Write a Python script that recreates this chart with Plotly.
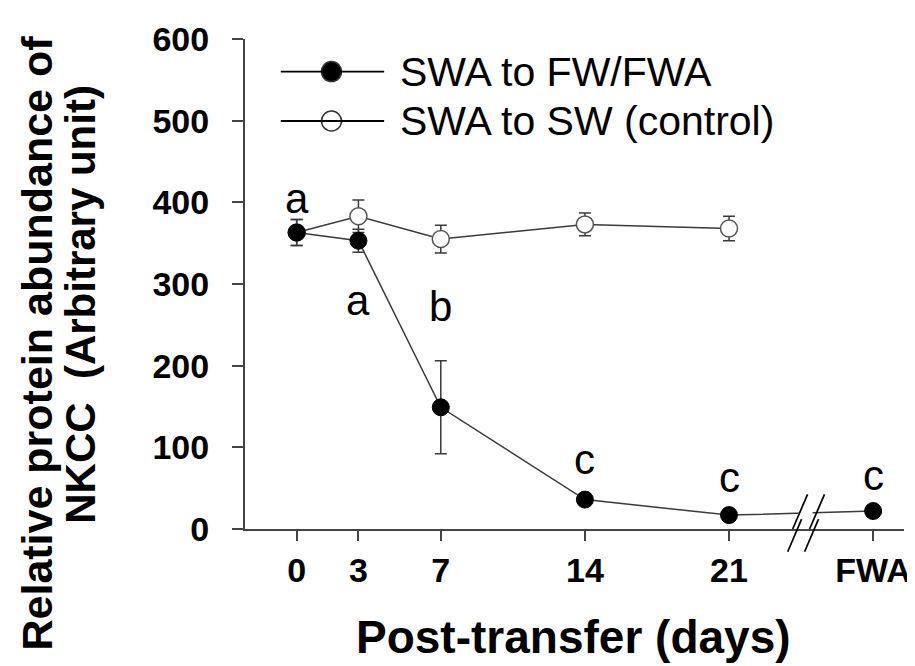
import plotly.graph_objects as go

# ---- data ----
days = [0, 3, 7, 14, 21, 28]
tick_labels = ["0", "3", "7", "14", "21", "FWA"]
y_ticks = [0, 100, 200, 300, 400, 500, 600]

fw_days = [0, 3, 7, 14, 21]
fw_mean = [363, 353, 149, 36, 17]
fw_err = [16, 14, 57, 4, 3]
fwa_day = [28]
fwa_mean = [22]
fwa_err = [3]

sw_days = [0, 3, 7, 14, 21]
sw_mean = [363, 383, 355, 373, 368]
sw_err = [16, 20, 17, 14, 15]

sig_days = [0, 3, 7, 14, 21, 28]
sig_letters = ["a", "a", "b", "c", "c", "c"]
sig_y = [405, 280, 272, 85, 63, 66]

FONT = "Liberation Sans, Arial, sans-serif"
LINE = "#3a3a3a"

# plot-area geometry (pixels)
W, H = 915, 666
ML, MR, MT, MB = 237, 15, 25, 145
PW, PH = W - ML - MR, H - MT - MB


def px_x(p):
    return (p - ML) / PW


def px_y(p):
    return (H - MB - p) / PH


fig = go.Figure()

# control (open)
fig.add_trace(go.Scatter(
    x=sw_days, y=sw_mean, mode="lines+markers", name="SWA to SW (control)",
    line=dict(color=LINE, width=1.5),
    marker=dict(symbol="circle", size=17, color="white", line=dict(color="#555", width=1.5)),
    error_y=dict(type="data", array=sw_err, color=LINE, thickness=1.5, width=6),
    showlegend=False,
))
# FW transfer (filled) including FWA point
fig.add_trace(go.Scatter(
    x=fw_days + fwa_day, y=fw_mean + fwa_mean, mode="lines+markers", name="SWA to FW/FWA",
    line=dict(color=LINE, width=1.5),
    marker=dict(symbol="circle", size=17, color="black", line=dict(color="black", width=1)),
    error_y=dict(type="data", array=fw_err + fwa_err, color=LINE, thickness=1.5, width=6),
    showlegend=False,
))

# legend (drawn manually)
legend_items = [("SWA to FW/FWA", "black"), ("SWA to SW (control)", "white")]
for i, (txt, fill) in enumerate(legend_items):
    yy = px_y(58 + i * 50)
    fig.add_shape(type="line", xref="paper", yref="paper", x0=px_x(273), x1=px_x(377), y0=yy, y1=yy,
                  line=dict(color="black", width=1.8))
    fig.add_trace(go.Scatter(
        x=[px_x(324)], y=[yy], xaxis="x2", yaxis="y2", mode="markers",
        marker=dict(symbol="circle", size=20, color=fill, line=dict(color="#333", width=1.5)),
        showlegend=False, hoverinfo="skip"))
    fig.add_annotation(x=px_x(391), y=yy, xref="paper", yref="paper", text=txt, showarrow=False,
                       xanchor="left", yanchor="middle", font=dict(family=FONT, size=41, color="black"))

# significance letters
for d, l, yv in zip(sig_days, sig_letters, sig_y):
    fig.add_annotation(x=d, y=yv, text=l, showarrow=False, xanchor="center", yanchor="middle",
                       font=dict(family=FONT, size=42, color="black"))

# axis break marks (on data line and on x axis), decoration in pixel space
fig.add_shape(type="line", xref="paper", yref="paper", x0=px_x(794), x1=px_x(808),
              y0=px_y(504), y1=px_y(504), line=dict(color="white", width=5))
for dx in (0, 17):
    fig.add_shape(type="line", xref="paper", yref="paper",
                  x0=px_x(788 + dx), x1=px_x(803 + dx), y0=px_y(521), y1=px_y(486),
                  line=dict(color="black", width=1.7))
    fig.add_shape(type="line", xref="paper", yref="paper",
                  x0=px_x(783 + dx), x1=px_x(797 + dx), y0=px_y(544), y1=px_y(511),
                  line=dict(color="black", width=1.7))

# y-axis title (two lines)
fig.add_annotation(x=px_x(28), y=px_y(333), xref="paper", yref="paper",
                   text="<b>Relative protein abundance of</b>", textangle=-90, showarrow=False,
                   xanchor="center", yanchor="middle", font=dict(family=FONT, size=43, color="black"))
fig.add_annotation(x=px_x(72), y=px_y(293), xref="paper", yref="paper",
                   text="<b>NKCC  (Arbitrary unit)</b>", textangle=-90, showarrow=False,
                   xanchor="center", yanchor="middle", font=dict(family=FONT, size=42, color="black"))
# x-axis title
fig.add_annotation(x=px_x(567), y=px_y(630), xref="paper", yref="paper",
                   text="<b>Post-transfer (days)</b>", showarrow=False,
                   xanchor="center", yanchor="middle", font=dict(family=FONT, size=46, color="black"))

fig.update_layout(
    width=W, height=H,
    margin=dict(l=ML, r=MR, t=MT, b=MB),
    paper_bgcolor="white", plot_bgcolor="white",
    xaxis=dict(
        range=[-2.51, 29.5], tickmode="array", tickvals=days, ticktext=[f"<b>{t}</b>" for t in tick_labels],
        showline=True, linecolor="#444", linewidth=2, ticks="outside", ticklen=10, tickwidth=1.5,
        tickcolor="#444", showgrid=False, zeroline=False,
        tickfont=dict(family=FONT, size=34, color="black"),
    ),
    yaxis=dict(
        range=[0, 600], tickmode="array", tickvals=y_ticks,
        ticktext=[f"<b>{v}</b>" for v in y_ticks],
        showline=True, linecolor="#444", linewidth=2, ticks="outside", ticklen=11, tickwidth=1.5,
        tickcolor="#444", showgrid=False, zeroline=False, ticklabelstandoff=16,
        tickfont=dict(family=FONT, size=34, color="black"),
    ),
    xaxis2=dict(domain=[0, 1], range=[0, 1], overlaying="x", visible=False, anchor="y2"),
    yaxis2=dict(domain=[0, 1], range=[0, 1], overlaying="y", visible=False, anchor="x2"),
    showlegend=False,
)

fig.write_html("out.html")
